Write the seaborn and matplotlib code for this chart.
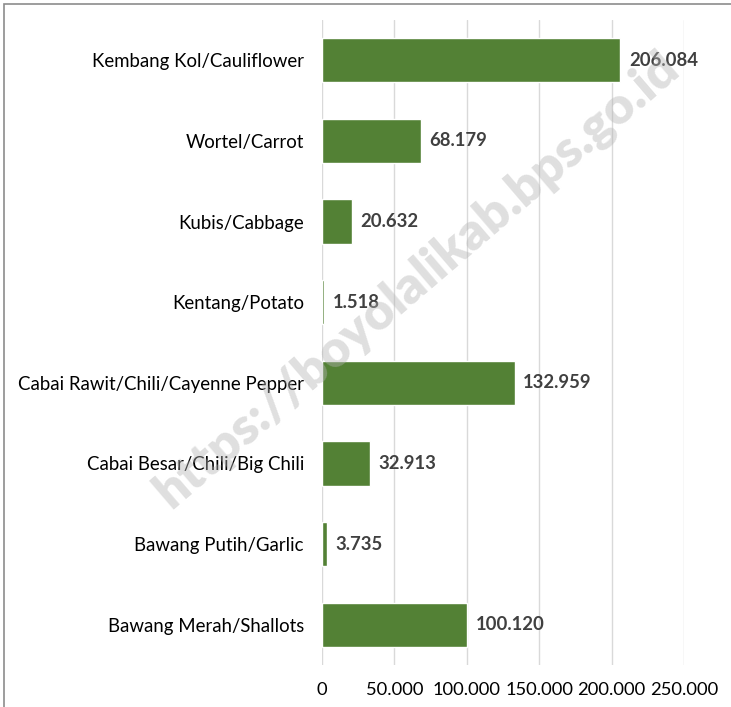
import matplotlib
matplotlib.use("Agg")
import matplotlib.pyplot as plt
import pandas as pd
import seaborn as sns
from matplotlib.patches import Rectangle

# data
crops = [
    "Kembang Kol/Cauliflower",
    "Wortel/Carrot",
    "Kubis/Cabbage",
    "Kentang/Potato",
    "Cabai Rawit/Chili/Cayenne Pepper",
    "Cabai Besar/Chili/Big Chili",
    "Bawang Putih/Garlic",
    "Bawang Merah/Shallots",
]
production = [206084, 68179, 20632, 1518, 132959, 32913, 3735, 100120]
xticks = [0, 50000, 100000, 150000, 200000, 250000]

df = pd.DataFrame({"crop": crops, "value": production})

sns.set_style("white")
plt.rcParams["font.family"] = ["Lato", "DejaVu Sans"]

fig = plt.figure(figsize=(7.31, 7.07), dpi=100)
ax = fig.add_axes([0.4405, 0.0594, 0.4952, 0.9123])

sns.barplot(data=df, y="crop", x="value", color="#538135", width=0.55,
            saturation=1, ax=ax, zorder=2)

def fmt(v):
    return f"{v:,}".replace(",", ".")

for i, v in enumerate(production):
    ax.text(v + 5800, i, fmt(v), va="center", ha="left", fontsize=13.3,
            fontweight="bold", color="#404040", zorder=3)

ax.set_xlim(0, 250000)
ax.set_ylim(len(crops) - 0.5, -0.5)
ax.set_xticks(xticks)
ax.set_xticklabels([fmt(t) for t in xticks], fontsize=13.2, color="#000000")
ax.tick_params(axis="x", length=0, pad=12)
ax.tick_params(axis="y", length=0, pad=13, labelsize=13.4, labelcolor="#000000")
ax.set_xlabel("")
ax.set_ylabel("")
ax.xaxis.grid(True, color="#d9d9d9", linewidth=1, zorder=0)
for s in ax.spines.values():
    s.set_visible(False)

# watermark, drawn over the bars
fig.text(0.57, 0.605, "https://boyolalikab.bps.go.id", fontsize=37,
         fontweight="heavy", color="#b4b4b4", alpha=0.42, rotation=40.6,
         ha="center", va="center", zorder=5)

# outer frame (left and top edges visible)
fig.patches.append(Rectangle((4 / 731, -0.1), 1.2, 1.1 - 4 / 707,
                             transform=fig.transFigure, fill=False,
                             edgecolor="#8c8c8c", linewidth=1.2))

fig.savefig("out.png", dpi=100)
